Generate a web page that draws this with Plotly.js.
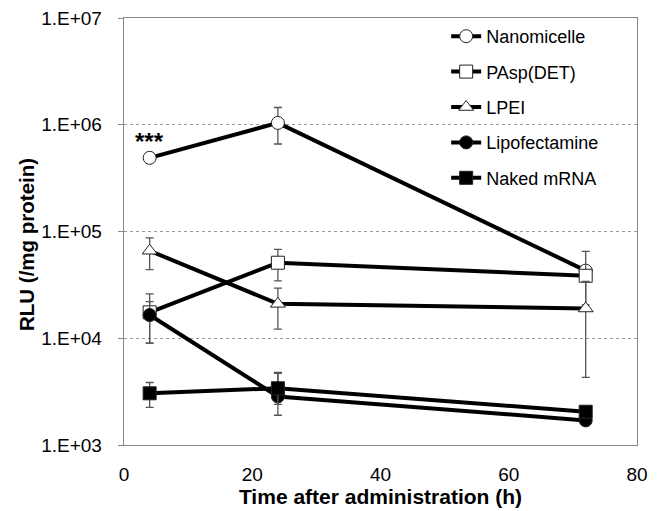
<!DOCTYPE html>
<html>
<head>
<meta charset="utf-8">
<script src="https://cdn.plot.ly/plotly-3.0.1.min.js"></script>
<style>html,body{margin:0;padding:0;background:#fff;}#chart{width:658px;height:511px;}</style>
</head>
<body>
<div id="chart"></div>
<script>
// Data
const times = [4, 24, 72];

const seriesNames = ["Nanomicelle", "PAsp(DET)", "LPEI", "Lipofectamine", "Naked mRNA"];

const nanomicelle = [490000, 1040000, 43000];
const nanomicelleErrUp = [0, 410000, 0];
const nanomicelleErrDown = [0, 380000, 0];

const paspDet = [17500, 51000, 38500];
const paspDetErrUp = [8500, 17000, 26500];
const paspDetErrDown = [8500, 16500, 18000];

const lpei = [66000, 21000, 19000];
const lpeiErrUp = [21000, 8500, 15000];
const lpeiErrDown = [22000, 8800, 14700];

const lipofectamine = [16500, 2850, 1700];
const lipofectamineErrUp = [5500, 1850, 0];
const lipofectamineErrDown = [7500, 950, 0];

const nakedMrna = [3050, 3400, 2050];
const nakedMrnaErrUp = [800, 1400, 0];
const nakedMrnaErrDown = [800, 1000, 0];

const yTickVals = [1e3, 1e4, 1e5, 1e6, 1e7];
const yTickText = ["1.E+03", "1.E+04", "1.E+05", "1.E+06", "1.E+07"];
const xTickVals = [0, 20, 40, 60, 80];

const xTitle = "Time after administration (h)";
const yTitle = "RLU (/mg protein)";

const annotationText = "***";
const annotationX = 4;
const annotationY = 700000;

const FONT = "Liberation Sans, Arial, sans-serif";

function mk(name, y, up, down, symbol, fill, i) {
  return {
    x: times, y: y, name: name, type: "scatter", mode: "lines+markers",
    legendgroup: "g" + i,
    line: {color: "#000", width: 4},
    marker: {symbol: symbol, size: 13, color: fill, line: {color: "#222", width: 1}},
    error_y: {type: "data", symmetric: false, array: up, arrayminus: down,
              color: "#555", thickness: 1.3, width: 4}
  };
}

const data = [
  mk(seriesNames[0], nanomicelle, nanomicelleErrUp, nanomicelleErrDown, "circle", "#fff", 0),
  mk(seriesNames[1], paspDet, paspDetErrUp, paspDetErrDown, "square", "#fff", 1),
  mk(seriesNames[2], lpei, lpeiErrUp, lpeiErrDown, "triangle-up", "#fff", 2),
  mk(seriesNames[3], lipofectamine, lipofectamineErrUp, lipofectamineErrDown, "circle", "#000", 3),
  mk(seriesNames[4], nakedMrna, nakedMrnaErrUp, nakedMrnaErrDown, "square", "#000", 4)
];

const M = {l: 124, r: 21, t: 18, b: 66};
const W = 658, H = 511;

const layout = {
  width: W, height: H,
  margin: M,
  paper_bgcolor: "#fff", plot_bgcolor: "#fff",
  font: {family: FONT, size: 18, color: "#000"},
  showlegend: true,
  legend: {x: 0.628, y: 1.0, xanchor: "left", yanchor: "top",
           bgcolor: "rgba(0,0,0,0)", font: {family: FONT, size: 18, color: "#000"},
           itemwidth: 30, tracegroupgap: 9, itemclick: false},
  xaxis: {
    range: [0, 80], tickvals: xTickVals, showgrid: false, zeroline: false,
    showline: true, linecolor: "#888", linewidth: 1.3, mirror: true,
    ticks: "outside", ticklen: 12, tickcolor: "rgba(0,0,0,0)",
    tickfont: {family: FONT, size: 19, color: "#000"},
    title: {text: "<b>" + xTitle + "</b>", font: {family: FONT, size: 21, color: "#000"}, standoff: 4}
  },
  yaxis: {
    type: "log", range: [3, 7], tickvals: yTickVals, ticktext: yTickText,
    showgrid: true, gridcolor: "#999", griddash: "dot", gridwidth: 1, zeroline: false,
    showline: true, linecolor: "#888", linewidth: 1.3, mirror: true,
    ticks: "outside", ticklen: 5, tickcolor: "#888", ticklabelstandoff: 12,
    tickfont: {family: FONT, size: 19, color: "#000"}
  },
  annotations: [{
    x: annotationX, y: Math.log10(annotationY), xref: "x", yref: "y",
    text: "<b>" + annotationText + "</b>", showarrow: false,
    font: {family: FONT, size: 24, color: "#000"}
  }, {
    x: (27 - M.l) / (W - M.l - M.r),
    y: ((H - M.b) - 245) / (H - M.t - M.b),
    xref: "paper", yref: "paper", xanchor: "center", yanchor: "middle",
    text: "<b>" + yTitle + "</b>", showarrow: false, textangle: -90,
    font: {family: FONT, size: 20.5, color: "#000"}
  }]
};

Plotly.newPlot("chart", data, layout, {displayModeBar: false, staticPlot: true});
</script>
</body>
</html>
